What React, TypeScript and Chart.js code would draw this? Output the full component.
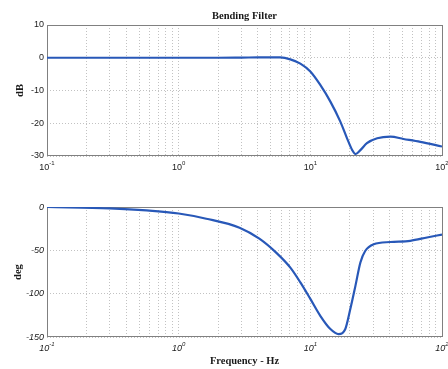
import React, { useEffect, useRef } from "react";
import { Chart, registerables } from "chart.js";

Chart.register(...registerables);

// ---- data ----
const magFreq = [0.1, 0.3, 1, 2, 3, 4, 5, 5.9, 7.05, 8.4, 10, 11.9, 14.2, 16.9, 19.0, 20.8, 22.0, 24.0, 26.9, 32.2, 40.6, 51, 68.4, 100];
const magDb = [0, 0, 0, 0, 0.05, 0.1, 0.12, 0.1, -0.5, -1.8, -4.2, -8.3, -13.4, -19.5, -24.6, -28.2, -29.4, -28.2, -26.1, -24.6, -24.1, -24.8, -25.7, -27.1];

const phaseFreq = [0.1, 0.3, 0.57, 1, 1.62, 2.9, 4.1, 5.5, 7.05, 8.4, 10, 11.9, 14.2, 16.4, 18.4, 20.1, 22, 24, 26.1, 30.3, 40.6, 57.4, 76.9, 100];
const phaseDeg = [0, -1.7, -4, -7.5, -13.5, -23.9, -36.6, -52.7, -70, -87, -106, -125.5, -140.8, -146.6, -141, -118, -91, -64, -50.8, -43, -40.4, -39, -35.2, -31.8];

const decades = [0.1, 1, 10, 100];
const decadeExponents = ["-1", "0", "1", "2"];
const minorMultipliers = [1, 2, 3, 4, 5, 6, 7, 8, 9];
const magTicks = [-30, -20, -10, 0, 10];
const phaseTicks = [-150, -100, -50, 0];

const titleText = "Bending Filter";
const magLabel = "dB";
const phaseLabel = "deg";
const xLabelText = "Frequency - Hz";

// ---- styles ----
const LINE_COLOR = "rgb(40,88,184)";
const GRID_COLOR = "#c2c2c2";
const FRAME_COLOR = "#808080";
const TEXT_COLOR = "#1a1a1a";
const SANS = '"Liberation Sans", Arial, Helvetica, sans-serif';
const SERIF = '"Liberation Serif", "Times New Roman", Times, serif';

const gridValues: number[] = [];
decades.forEach((d) => {
  if (d < 100) minorMultipliers.forEach((m) => gridValues.push(+(d * m).toPrecision(6)));
  else gridValues.push(d);
});

const framePlugin = {
  id: "frame",
  beforeDatasetsDraw(chart: any) {
    const { ctx, chartArea: a } = chart;
    ctx.save();
    ctx.strokeStyle = FRAME_COLOR;
    ctx.lineWidth = 1;
    const l = Math.floor(a.left) + 0.5;
    const t = Math.floor(a.top) + 0.5;
    const r = Math.floor(a.right) + 0.5;
    const b = Math.floor(a.bottom) - 0.5;
    ctx.strokeRect(l, t, r - l, b - t);
    ctx.restore();
  },
};

type TextCfg = {
  italic: boolean;
  yLabel: string;
  yLabelX: number;
  title?: string;
  titleBaseline?: number;
  xLabel?: string;
  xLabelBaseline?: number;
};

function makeTextPlugin(cfg: TextCfg) {
  return {
    id: "bodeText",
    afterDraw(chart: any) {
      const { ctx, chartArea: a, scales } = chart;
      const xs = scales.x;
      const st = cfg.italic ? "italic " : "";
      ctx.save();
      ctx.fillStyle = TEXT_COLOR;
      ctx.textAlign = "left";
      ctx.textBaseline = "alphabetic";
      decades.forEach((d, i) => {
        const px = xs.getPixelForValue(d);
        ctx.font = `${st}9px ${SANS}`;
        const w1 = ctx.measureText("10").width;
        ctx.font = `${st}6px ${SANS}`;
        const w2 = ctx.measureText(decadeExponents[i]).width;
        const x0 = px - (w1 + w2) / 2;
        ctx.font = `${st}9px ${SANS}`;
        ctx.fillText("10", x0, a.bottom + 14);
        ctx.font = `${st}6px ${SANS}`;
        ctx.fillText(decadeExponents[i], x0 + w1, a.bottom + 8.5);
      });
      const cx = (a.left + a.right) / 2;
      ctx.font = `bold 10.5px ${SERIF}`;
      if (cfg.title) {
        ctx.textAlign = "center";
        ctx.fillText(cfg.title, cx, cfg.titleBaseline);
      }
      if (cfg.xLabel) {
        ctx.textAlign = "center";
        ctx.fillText(cfg.xLabel, cx, cfg.xLabelBaseline);
      }
      ctx.translate(cfg.yLabelX, (a.top + a.bottom) / 2);
      ctx.rotate(-Math.PI / 2);
      ctx.textAlign = "center";
      ctx.textBaseline = "alphabetic";
      ctx.fillText(cfg.yLabel, 0, 0);
      ctx.restore();
    },
  };
}

function makeChart(
  canvas: HTMLCanvasElement,
  freq: number[],
  vals: number[],
  yMin: number,
  yMax: number,
  yTicks: number[],
  padTop: number,
  xAxisHeight: number,
  cfg: TextCfg
) {
  const grid = { color: GRID_COLOR, lineWidth: 1, drawTicks: false };
  const border = { display: false, dash: [1, 2] };
  return new Chart(canvas, {
    type: "line",
    data: {
      datasets: [
        {
          data: freq.map((f, i) => ({ x: f, y: vals[i] })),
          borderColor: LINE_COLOR,
          borderWidth: 2.2,
          pointRadius: 0,
          fill: false,
          cubicInterpolationMode: "monotone",
        },
      ],
    },
    options: {
      animation: false,
      responsive: false,
      devicePixelRatio: 1,
      layout: { padding: { left: 0, right: 6, top: padTop, bottom: 0 } },
      plugins: {
        legend: { display: false },
        tooltip: { enabled: false },
        title: { display: false },
      },
      scales: {
        x: {
          type: "logarithmic",
          min: 0.1,
          max: 100,
          afterBuildTicks: (s: any) => {
            s.ticks = gridValues.map((v) => ({ value: v }));
          },
          afterFit: (s: any) => {
            s.height = xAxisHeight;
          },
          ticks: { display: false },
          grid,
          border,
        },
        y: {
          type: "linear",
          min: yMin,
          max: yMax,
          afterBuildTicks: (s: any) => {
            s.ticks = yTicks.map((v) => ({ value: v }));
          },
          afterFit: (s: any) => {
            s.width = 47;
          },
          ticks: {
            color: TEXT_COLOR,
            padding: 3,
            font: { family: SANS, size: 9, style: cfg.italic ? "italic" : "normal" },
          },
          grid,
          border,
        },
      },
    } as any,
    plugins: [framePlugin, makeTextPlugin(cfg)],
  });
}

export default function App() {
  const topRef = useRef<HTMLCanvasElement>(null);
  const botRef = useRef<HTMLCanvasElement>(null);

  useEffect(() => {
    const c1 = makeChart(topRef.current!, magFreq, magDb, -30, 10, magTicks, 25, 29, {
      italic: false,
      yLabel: magLabel,
      yLabelX: 23,
      title: titleText,
      titleBaseline: 18.5,
    });
    const c2 = makeChart(botRef.current!, phaseFreq, phaseDeg, -150, 0, phaseTicks, 22, 32, {
      italic: true,
      yLabel: phaseLabel,
      yLabelX: 20.5,
      xLabel: xLabelText,
      xLabelBaseline: 179.3,
    });
    return () => {
      c1.destroy();
      c2.destroy();
    };
  }, []);

  return (
    <div style={{ position: "absolute", left: 0, top: 0, width: 448, height: 369, background: "#fff" }}>
      <canvas ref={topRef} width={448} height={185} style={{ position: "absolute", left: 0, top: 0, width: 448, height: 185 }} />
      <canvas ref={botRef} width={448} height={184} style={{ position: "absolute", left: 0, top: 185, width: 448, height: 184 }} />
    </div>
  );
}
